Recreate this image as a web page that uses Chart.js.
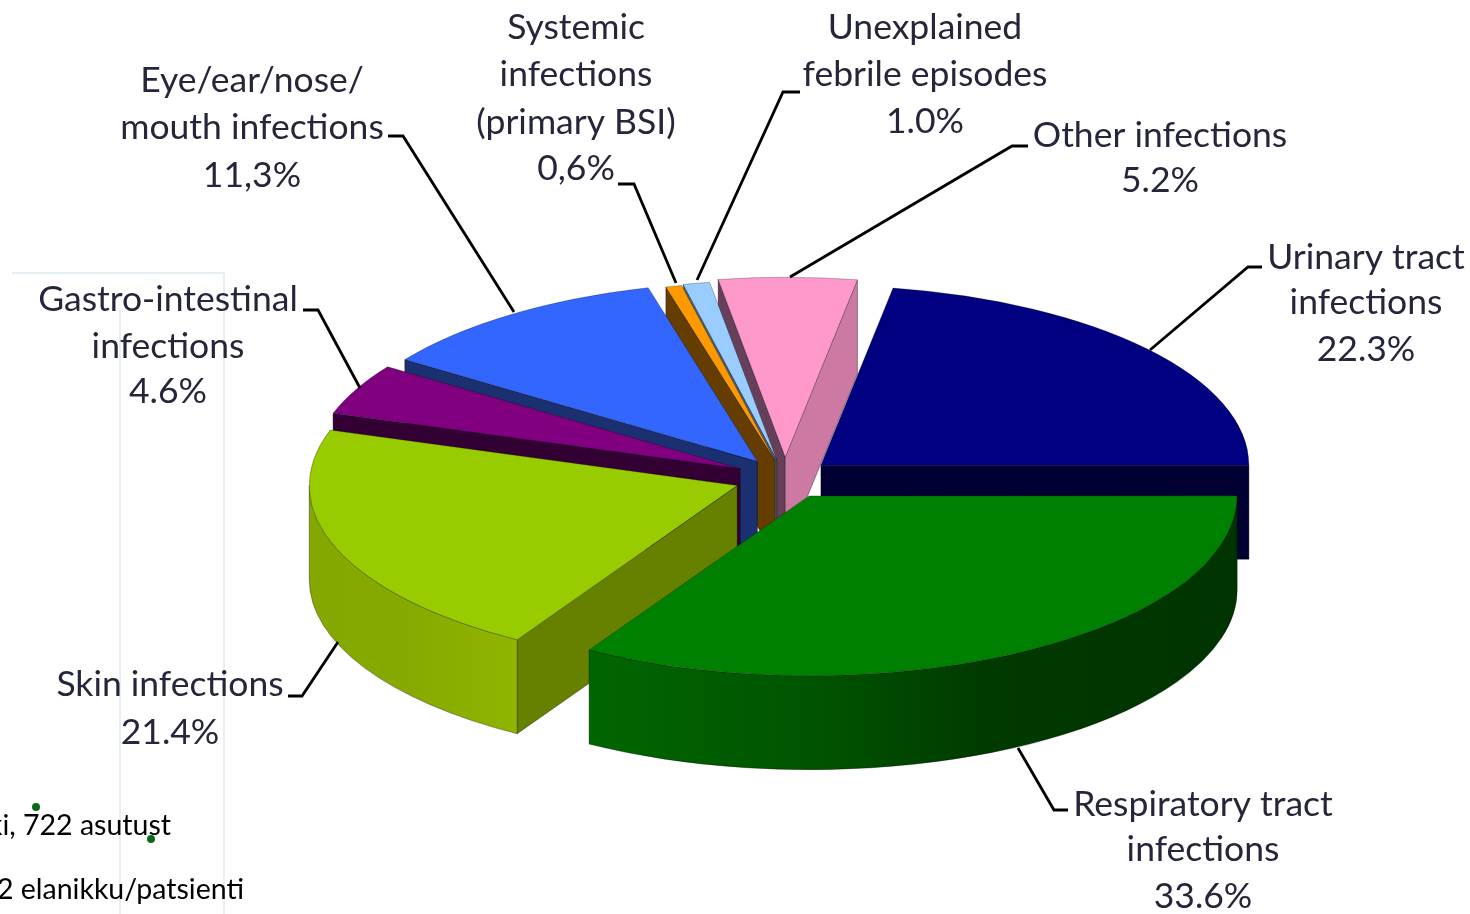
<!DOCTYPE html>
<html>
<head>
<meta charset="utf-8">
<script src="https://cdn.jsdelivr.net/npm/chart.js@4/dist/chart.umd.min.js"></script>
<style>
html,body{margin:0;padding:0;background:#fff;overflow:hidden}
canvas{display:block;filter:blur(0.6px)}
</style>
</head>
<body>
<canvas id="c" width="1470" height="914"></canvas>
<script>
const categories = ["Urinary tract infections","Respiratory tract infections","Skin infections","Gastro-intestinal infections","Eye/ear/nose/mouth infections","Systemic infections (primary BSI)","Unexplained febrile episodes","Other infections"];
const values = [22.3,33.6,21.4,4.6,11.3,0.6,1.0,5.2];
const topColors = ["#000080","#008000","#99CC00","#800080","#3366FF","#FF9900","#99CCFF","#FF99CC"];
const cutColors = ["#000033","#003300","#668000","#330033","#1A3070","#663D00","#4D6070","#66405A"];
const endColors = ["#000033","#003300","#668000","#330033","#1A3070","#663D00","#4D6070","#CC7AA3"];
const explode = [47,49,51,50,48,42,44,50];
const paintOrder = [7,6,5,4,3,0,2,1];
const respRim = [[0,"#006600"],[0.35,"#005400"],[0.6,"#003B00"],[1,"#003300"]];
const skinRim = [[0,"#85A800"],[0.5,"#87AA00"],[1,"#90B500"]];
const labelLines = [
  {x:1366,ys:[258,303,350],t:["Urinary tract","infections","22.3%"]},
  {x:1203,ys:[805,850,897],t:["Respiratory tract","infections","33.6%"]},
  {x:170,ys:[685,733],t:["Skin infections","21.4%"]},
  {x:168,ys:[300,347,392],t:["Gastro-intestinal","infections","4.6%"]},
  {x:252,ys:[81,128,176],t:["Eye/ear/nose/","mouth infections","11,3%"]},
  {x:576,ys:[28,75,123,169],t:["Systemic","infections","(primary BSI)","0,6%"]},
  {x:925,ys:[28,75,122],t:["Unexplained","febrile episodes","1.0%"]},
  {x:1160,ys:[136,181],t:["Other infections","5.2%"]}
];
const leaders = [
  [[1262,267],[1248,267],[1150,350]],
  [[1068,810],[1054,810],[1018,748]],
  [[288,696],[302,696],[338,642]],
  [[303,310],[318,310],[360,388]],
  [[388,136],[403,136],[514,312]],
  [[618,184],[634,184],[676,283]],
  [[800,92],[783,92],[697,280]],
  [[1028,146],[1012,146],[790,277]]
];
const K = 0.42, DEPTH = 94, RADIUS = 428;

const pie3d = {
  id:'pie3d',
  beforeDraw(chart){
    const c = chart.ctx;
    c.save();
    c.fillStyle="#fff"; c.fillRect(0,0,1470,914);
    c.strokeStyle="#E6F0F4"; c.lineWidth=2;
    c.beginPath();
    c.moveTo(12,273); c.lineTo(224,273); c.lineTo(224,914);
    c.moveTo(120,310); c.lineTo(120,914);
    c.stroke();
    c.fillStyle="#000"; c.font="28.5px Lato"; c.textAlign="right"; c.textBaseline="alphabetic";
    c.fillText("ki, 722 asutust",171,835);
    c.fillText("2 elanikku/patsienti",244,899);
    c.fillStyle="#0B6A1A";
    c.beginPath(); c.arc(36,807,4,0,7); c.arc(151,839,4,0,7); c.fill();
    c.restore();
  },
  beforeDatasetsDraw(chart){
    const c = chart.ctx, arcs = chart.getDatasetMeta(0).data;
    for(const i of paintOrder){
      const a = arcs[i], s=a.startAngle, e=a.endAngle, R=a.outerRadius, mid=(s+e)/2;
      const ax=a.x+Math.cos(mid)*explode[i], ay=a.y+Math.sin(mid)*explode[i]*K;
      const px=t=>ax+Math.cos(t)*R, py=t=>ay+Math.sin(t)*R*K;
      c.save();
      c.lineWidth=0.8; c.lineJoin="round"; c.strokeStyle="rgba(0,0,0,0.45)";
      const face=(t,col)=>{
        c.beginPath(); c.moveTo(ax,ay); c.lineTo(px(t),py(t));
        c.lineTo(px(t),py(t)+DEPTH); c.lineTo(ax,ay+DEPTH); c.closePath();
        c.fillStyle=col; c.fill(); c.stroke();
      };
      if(Math.cos(s)<0) face(s,cutColors[i]);
      if(Math.cos(e)>0) face(e,endColors[i]);
      const t0=Math.max(s,0), t1=Math.min(e,Math.PI);
      if(t1>t0+1e-6){
        c.beginPath();
        c.ellipse(ax,ay,R,R*K,0,t0,t1,false);
        c.ellipse(ax,ay+DEPTH,R,R*K,0,t1,t0,true);
        c.closePath();
        const x0=px(t1), x1=px(t0);
        const stops = i===1?respRim:i===2?skinRim:[[0,endColors[i]],[1,endColors[i]]];
        const g=c.createLinearGradient(Math.min(x0,x1),0,Math.max(x0,x1),0);
        stops.forEach(p=>g.addColorStop(p[0],p[1]));
        c.fillStyle=g; c.fill(); c.stroke();
      }
      c.translate(ax,ay); c.scale(1,K); c.translate(-a.x,-a.y);
      a.draw(c);
      c.restore();
    }
    return false;
  },
  afterDraw(chart){
    const c = chart.ctx;
    c.save();
    c.strokeStyle="#000"; c.lineWidth=2.8; c.lineJoin="miter";
    leaders.forEach(l=>{c.beginPath(); l.forEach((p,j)=>j?c.lineTo(p[0],p[1]):c.moveTo(p[0],p[1])); c.stroke();});
    c.fillStyle="#26263A"; c.font="35.5px Lato"; c.textAlign="center"; c.textBaseline="middle";
    labelLines.forEach(l=>l.t.forEach((s,j)=>c.fillText(s,l.x,l.ys[j])));
    c.restore();
  }
};

new Chart(document.getElementById('c'),{
  type:'pie',
  data:{labels:categories,datasets:[{data:values,backgroundColor:topColors,borderColor:"rgba(0,0,0,0.45)",borderWidth:0.8}]},
  options:{
    responsive:false,animation:false,rotation:9.7,radius:RADIUS,
    layout:{padding:{left:100,top:42}},
    plugins:{legend:{display:false},tooltip:{enabled:false},title:{display:false}},
    events:[]
  },
  plugins:[pie3d]
});
</script>
</body>
</html>
